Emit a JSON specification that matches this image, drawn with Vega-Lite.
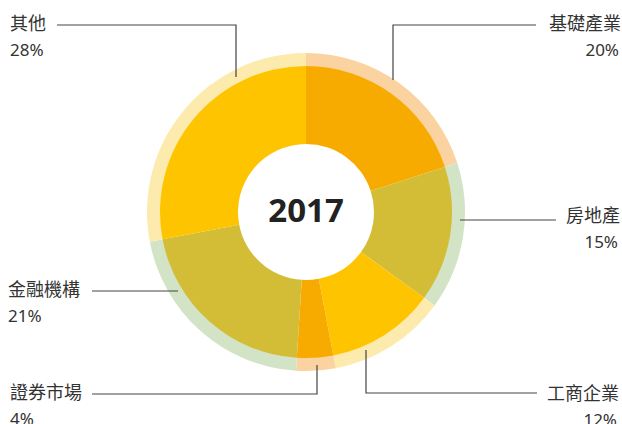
{
  "$schema": "https://vega.github.io/schema/vega-lite/v6.json",
  "width": 612,
  "height": 424,
  "autosize": {"type": "none"},
  "padding": {"left": 0, "top": 0, "right": 10, "bottom": 0},
  "background": "white",
  "config": {"view": {"stroke": null}},
  "datasets": {
    "sectors": [
      {"sector": "基礎產業", "share": 20, "rank": 1},
      {"sector": "房地產", "share": 15, "rank": 2},
      {"sector": "工商企業", "share": 12, "rank": 3},
      {"sector": "證券市場", "share": 4, "rank": 4},
      {"sector": "金融機構", "share": 21, "rank": 5},
      {"sector": "其他", "share": 28, "rank": 6}
    ],
    "labels": [
      {"sector": "其他", "name": "其他", "pct": "28%", "side": "left", "x": -296, "y": 187},
      {"sector": "基礎產業", "name": "基礎產業", "pct": "20%", "side": "right", "x": 313, "y": 187},
      {"sector": "房地產", "name": "房地產", "pct": "15%", "side": "right", "x": 312, "y": -4.5},
      {"sector": "金融機構", "name": "金融機構", "pct": "21%", "side": "left", "x": -298, "y": -79},
      {"sector": "證券市場", "name": "證券市場", "pct": "4%", "side": "left", "x": -296, "y": -182},
      {"sector": "工商企業", "name": "工商企業", "pct": "12%", "side": "right", "x": 311, "y": -182.5}
    ],
    "leaders": [
      {"sector": "其他", "i": 1, "x": -249, "y": 187},
      {"sector": "其他", "i": 2, "x": -70, "y": 187},
      {"sector": "其他", "i": 3, "x": -70, "y": 135},
      {"sector": "基礎產業", "i": 1, "x": 230, "y": 187},
      {"sector": "基礎產業", "i": 2, "x": 87, "y": 187},
      {"sector": "基礎產業", "i": 3, "x": 87, "y": 132},
      {"sector": "房地產", "i": 1, "x": 250, "y": -8},
      {"sector": "房地產", "i": 2, "x": 154, "y": -8},
      {"sector": "金融機構", "i": 1, "x": -214, "y": -79},
      {"sector": "金融機構", "i": 2, "x": -128, "y": -79},
      {"sector": "證券市場", "i": 1, "x": -214, "y": -182},
      {"sector": "證券市場", "i": 2, "x": 11, "y": -182},
      {"sector": "證券市場", "i": 3, "x": 11, "y": -153},
      {"sector": "工商企業", "i": 1, "x": 231, "y": -181},
      {"sector": "工商企業", "i": 2, "x": 60, "y": -181},
      {"sector": "工商企業", "i": 3, "x": 60, "y": -138}
    ],
    "centre": [{"year": "2017", "x": 0, "y": 0}]
  },
  "layer": [
    {
      "data": {"name": "sectors"},
      "mark": {"type": "arc", "outerRadius": 159, "innerRadius": 145},
      "encoding": {
        "theta": {"field": "share", "type": "quantitative", "stack": true},
        "order": {"field": "rank", "type": "quantitative"},
        "color": {
          "field": "sector", "type": "nominal", "legend": null,
          "scale": {
            "domain": ["基礎產業", "房地產", "工商企業", "證券市場", "金融機構", "其他"],
            "range": ["#FBD3A1", "#D3E3C5", "#FDEBAE", "#FBD3A1", "#D3E3C5", "#FDEBAE"]
          }
        }
      }
    },
    {
      "data": {"name": "sectors"},
      "mark": {"type": "arc", "outerRadius": 146, "innerRadius": 68},
      "encoding": {
        "theta": {"field": "share", "type": "quantitative", "stack": true},
        "order": {"field": "rank", "type": "quantitative"},
        "fill": {
          "field": "sector", "type": "nominal", "legend": null,
          "scale": {
            "domain": ["基礎產業", "房地產", "工商企業", "證券市場", "金融機構", "其他"],
            "range": ["#F7AB00", "#D4BD36", "#FEC400", "#F7AB00", "#D4BD36", "#FEC400"]
          }
        }
      }
    },
    {
      "data": {"name": "leaders"},
      "mark": {"type": "line", "color": "#444444", "strokeWidth": 1.2, "interpolate": "linear"},
      "encoding": {
        "x": {"field": "x", "type": "quantitative", "axis": null, "scale": {"domain": [-306, 306], "nice": false, "zero": false}},
        "y": {"field": "y", "type": "quantitative", "axis": null, "scale": {"domain": [-212, 212], "nice": false, "zero": false}},
        "detail": {"field": "sector", "type": "nominal"},
        "order": {"field": "i", "type": "quantitative"}
      }
    },
    {
      "data": {"name": "labels"},
      "transform": [{"filter": "datum.side === 'left'"}],
      "mark": {"type": "text", "align": "left", "baseline": "middle", "font": "Noto Sans CJK TC", "fontSize": 18, "letterSpacing": 1, "color": "#333333"},
      "encoding": {
        "x": {"field": "x", "type": "quantitative"},
        "y": {"field": "y", "type": "quantitative"},
        "text": {"field": "name", "type": "nominal"}
      }
    },
    {
      "data": {"name": "labels"},
      "transform": [{"filter": "datum.side === 'left'"}],
      "mark": {"type": "text", "align": "left", "baseline": "middle", "dy": 26, "font": "Noto Sans", "fontSize": 17, "color": "#333333"},
      "encoding": {
        "x": {"field": "x", "type": "quantitative"},
        "y": {"field": "y", "type": "quantitative"},
        "text": {"field": "pct", "type": "nominal"}
      }
    },
    {
      "data": {"name": "labels"},
      "transform": [{"filter": "datum.side === 'right'"}],
      "mark": {"type": "text", "align": "right", "baseline": "middle", "dx": 2, "font": "Noto Sans CJK TC", "fontSize": 18, "letterSpacing": 1, "color": "#333333"},
      "encoding": {
        "x": {"field": "x", "type": "quantitative"},
        "y": {"field": "y", "type": "quantitative"},
        "text": {"field": "name", "type": "nominal"}
      }
    },
    {
      "data": {"name": "labels"},
      "transform": [{"filter": "datum.side === 'right'"}],
      "mark": {"type": "text", "align": "right", "baseline": "middle", "dy": 26, "font": "Noto Sans", "fontSize": 17, "color": "#333333"},
      "encoding": {
        "x": {"field": "x", "type": "quantitative"},
        "y": {"field": "y", "type": "quantitative"},
        "text": {"field": "pct", "type": "nominal"}
      }
    },
    {
      "data": {"name": "centre"},
      "mark": {"type": "text", "align": "center", "baseline": "middle", "font": "Noto Sans", "fontWeight": "bold", "fontSize": 33, "color": "#222222"},
      "encoding": {
        "x": {"field": "x", "type": "quantitative"},
        "y": {"field": "y", "type": "quantitative"},
        "text": {"field": "year", "type": "nominal"}
      }
    }
  ],
  "resolve": {"scale": {"color": "independent", "fill": "independent"}}
}
